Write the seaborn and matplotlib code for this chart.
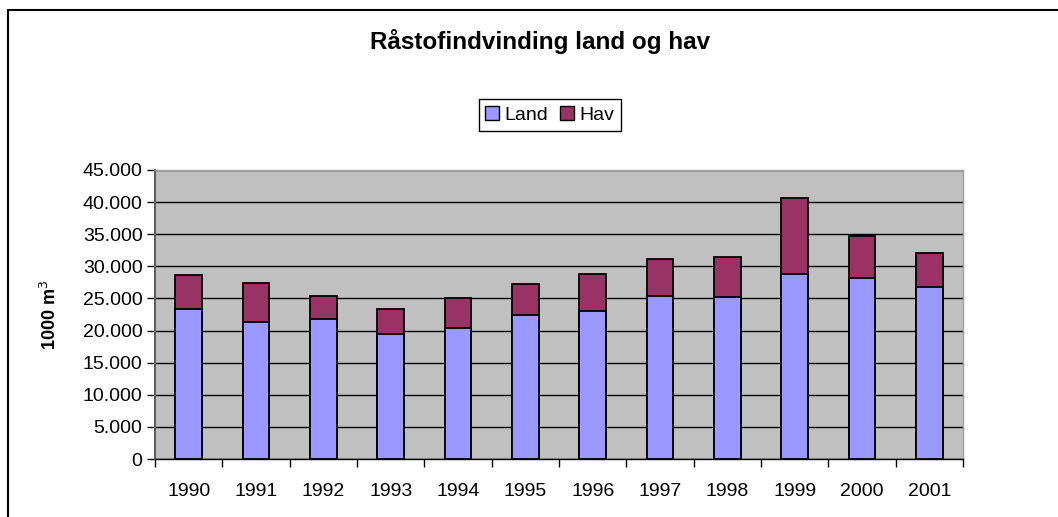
import numpy as np
import pandas as pd
import matplotlib
matplotlib.use("Agg")
import matplotlib.pyplot as plt
import seaborn as sns
from matplotlib.patches import Patch
from matplotlib.lines import Line2D
from matplotlib.ticker import FuncFormatter, FixedLocator

years = ["1990", "1991", "1992", "1993", "1994", "1995",
         "1996", "1997", "1998", "1999", "2000", "2001"]
land = [23400, 21300, 21800, 19500, 20400, 22500,
        23100, 25400, 25200, 28800, 28200, 26800]
hav = [5200, 6100, 3600, 3800, 4600, 4700,
       5700, 5700, 6300, 11800, 6500, 5200]

land_color = "#9999FF"
hav_color = "#993366"

df = pd.DataFrame({"year": years, "Land": land, "Hav": hav})
df["total"] = df["Land"] + df["Hav"]

sns.set_style("white")
plt.rcParams["font.family"] = ["Liberation Sans", "DejaVu Sans"]
plt.rcParams["text.color"] = "black"
plt.rcParams["xtick.color"] = "black"
plt.rcParams["ytick.color"] = "black"
plt.rcParams["axes.labelcolor"] = "black"

fig = plt.figure(figsize=(10.58, 5.17), dpi=100)
ax = fig.add_axes([155 / 1058, 1 - 459 / 517, (963 - 155) / 1058, (459 - 170) / 517])
ax.set_facecolor("#C0C0C0")

# stacked bars: total (Hav colour) behind, Land in front
sns.barplot(data=df, x="year", y="total", color=hav_color, width=0.4,
            edgecolor="black", linewidth=1.3, saturation=1, ax=ax, zorder=3)
sns.barplot(data=df, x="year", y="Land", color=land_color, width=0.4,
            edgecolor="black", linewidth=1.3, saturation=1, ax=ax, zorder=4)

ax.set_ylim(0, 45000)
ax.set_xlim(-0.5, len(years) - 0.5)
ax.set_yticks(np.arange(0, 45001, 5000))
ax.yaxis.set_major_formatter(FuncFormatter(lambda v, p: f"{int(v):,}".replace(",", ".")))
ax.yaxis.grid(True, color="black", linewidth=1)
ax.set_axisbelow(True)

# x ticks between categories
ax.tick_params(axis="x", which="major", length=0, pad=17, labelsize=14)
ax.xaxis.set_minor_locator(FixedLocator(np.arange(-0.5, len(years), 1)))
ax.tick_params(axis="x", which="minor", length=6, width=1, color="black", direction="out")
ax.tick_params(axis="y", length=6, width=1, color="black", direction="out", labelsize=14, pad=3)
ax.tick_params(bottom=True, left=True, which="both")

for s in ["top", "right"]:
    ax.spines[s].set_color("#A0A0A0")
    ax.spines[s].set_linewidth(1)
ax.spines["left"].set_color("#606060")
ax.spines["left"].set_linewidth(1.5)
ax.spines["bottom"].set_color("black")
ax.spines["bottom"].set_linewidth(1)

ax.set_xlabel("")
ax.set_ylabel("1000 m$^3$", fontsize=13, fontweight="bold", labelpad=16)

fig.text(540 / 1058, 1 - 42 / 517, "Råstofindvinding land og hav",
         ha="center", va="center", fontsize=17.5, fontweight="bold")

handles = [Patch(facecolor=land_color, edgecolor="black", linewidth=1, label="Land"),
           Patch(facecolor=hav_color, edgecolor="black", linewidth=1, label="Hav")]
fig.legend(handles=handles, loc="center", bbox_to_anchor=(550 / 1058, 1 - 115 / 517),
           ncol=2, frameon=True, fancybox=False, edgecolor="black", fontsize=14,
           handlelength=0.7, handleheight=0.7, handletextpad=0.3, columnspacing=0.6,
           borderpad=0.35, framealpha=1)

# outer chart border (left and top only visible)
fig.add_artist(Line2D([7.5 / 1058, 7.5 / 1058], [0, 1 - 9.5 / 517],
                      transform=fig.transFigure, color="black", linewidth=1.5))
fig.add_artist(Line2D([7.5 / 1058, 1.0], [1 - 9.5 / 517, 1 - 9.5 / 517],
                      transform=fig.transFigure, color="black", linewidth=1.5))

fig.savefig("out.png", dpi=100)
